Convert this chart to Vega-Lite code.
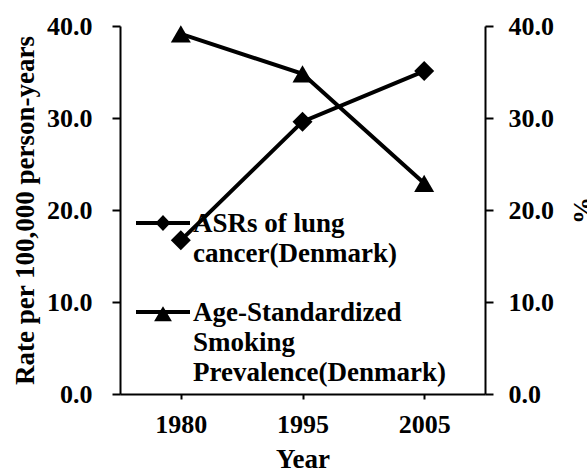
{
  "$schema": "https://vega.github.io/schema/vega-lite/v6.json",
  "width": 365,
  "height": 368,
  "autosize": "none",
  "padding": {"left": 120, "top": 26, "right": 102, "bottom": 78},
  "background": "white",
  "config": {
    "view": {"stroke": null},
    "font": "Liberation Serif",
    "style": {"guide-label": {"lineHeight": 30}},
    "axis": {
      "labelFont": "Liberation Serif",
      "labelFontWeight": "bold",
      "labelFontSize": 26,
      "labelColor": "black",
      "titleFont": "Liberation Serif",
      "titleFontWeight": "bold",
      "titleFontSize": 27,
      "titleColor": "black",
      "domainColor": "black",
      "domainWidth": 2,
      "tickColor": "black",
      "tickWidth": 2,
      "grid": false
    },
    "legend": {
      "labelFont": "Liberation Serif",
      "labelFontWeight": "bold",
      "labelFontSize": 27,
      "labelColor": "black",
      "labelLimit": 400
    }
  },
  "data": {
    "values": [
      {"year": "1980", "series": "ASRs of lung cancer(Denmark)", "value": 16.7},
      {"year": "1995", "series": "ASRs of lung cancer(Denmark)", "value": 29.6},
      {"year": "2005", "series": "ASRs of lung cancer(Denmark)", "value": 35.1},
      {"year": "1980", "series": "Age-Standardized Smoking Prevalence(Denmark)", "value": 39.15},
      {"year": "1995", "series": "Age-Standardized Smoking Prevalence(Denmark)", "value": 34.8},
      {"year": "2005", "series": "Age-Standardized Smoking Prevalence(Denmark)", "value": 22.9}
    ]
  },
  "layer": [
    {
      "transform": [{"filter": "datum.series == 'ASRs of lung cancer(Denmark)'"}],
      "encoding": {
        "x": {
          "field": "year", "type": "ordinal",
          "axis": {"title": "Year", "labelAngle": 0, "tickSize": 5, "labelPadding": 12, "titlePadding": 9}
        },
        "y": {
          "field": "value", "type": "quantitative",
          "scale": {"domain": [0, 40], "nice": false},
          "axis": {"title": "Rate per 100,000 person-years", "values": [0, 10, 20, 30, 40], "format": ".1f", "tickSize": 8, "labelPadding": 20, "titlePadding": 7}
        }
      },
      "layer": [
        {"mark": {"type": "line", "color": "black", "strokeWidth": 4}},
        {"mark": {"type": "point", "filled": true, "shape": "diamond", "color": "black", "size": 400, "opacity": 1}},
        {
          "transform": [{"filter": "datum.value < 0"}],
          "mark": {"type": "point", "filled": true, "color": "black", "size": 400, "opacity": 1},
          "encoding": {
            "shape": {
              "field": "series", "type": "nominal",
              "scale": {
                "domain": ["ASRs of lung cancer(Denmark)", "Age-Standardized Smoking Prevalence(Denmark)"],
                "range": [
                  "M-1,-0.407H-0.211L0,-0.633L0.211,-0.407H1V-0.259H0.211L0,-0.033L-0.211,-0.259H-1Z",
                  "M-1,-0.407H-0.084L0,-0.548L0.084,-0.407H1V-0.259H0.172L0.33,0.007H-0.33L-0.172,-0.259H-1Z"
                ]
              },
              "legend": {
                "title": null,
                "orient": "none",
                "legendX": 16,
                "legendY": 179,
                "symbolSize": 2916,
                "symbolOpacity": 1,
                "symbolFillColor": "black",
                "symbolStrokeWidth": 0,
                "labelOffset": 3,
                "rowPadding": 27,
                "labelBaseline": "alphabetic",
                "labelExpr": "datum.label == 'ASRs of lung cancer(Denmark)' ? ['ASRs of lung', 'cancer(Denmark)'] : ['Age-Standardized', 'Smoking', 'Prevalence(Denmark)']"
              }
            }
          }
        }
      ]
    },
    {
      "transform": [{"filter": "datum.series == 'Age-Standardized Smoking Prevalence(Denmark)'"}],
      "encoding": {
        "x": {"field": "year", "type": "ordinal"},
        "y": {
          "field": "value", "type": "quantitative",
          "scale": {"domain": [0, 40], "nice": false},
          "axis": {"orient": "right", "title": "%", "titleAngle": 270, "titleBaseline": "top", "values": [0, 10, 20, 30, 40], "format": ".1f", "tickSize": 8, "labelPadding": 15, "titlePadding": 17}
        }
      },
      "layer": [
        {"mark": {"type": "line", "color": "black", "strokeWidth": 4}},
        {"mark": {"type": "point", "filled": true, "shape": "triangle-up", "color": "black", "size": 400, "opacity": 1}}
      ]
    }
  ],
  "resolve": {"scale": {"y": "independent"}}
}
